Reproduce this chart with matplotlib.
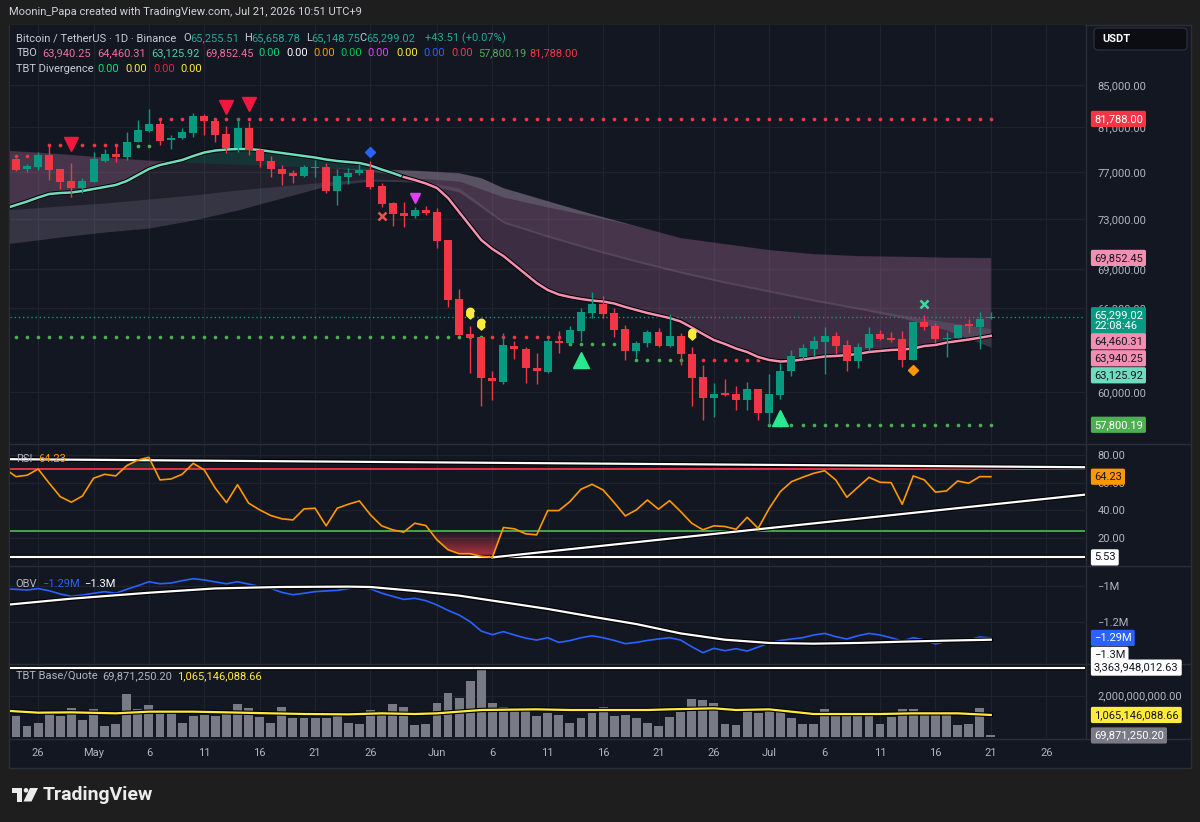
import numpy as np
import pandas as pd
import matplotlib
matplotlib.use('Agg')
import matplotlib.pyplot as plt
import matplotlib.patheffects as pe
from matplotlib.patches import Rectangle, Polygon, Ellipse, FancyBboxPatch
from matplotlib.path import Path
from matplotlib.colors import LinearSegmentedColormap
from matplotlib.ticker import NullLocator

plt.rcParams['font.family'] = ['Roboto', 'DejaVu Sans']

# ---------------- data (BTC/USDT daily, Apr 23 - Jul 21) ----------------
dates = pd.date_range('2026-04-23', '2026-07-21', freq='D')

opens = [77950, 78150, 77270, 77475, 78508, 77270, 76225, 75620, 76165, 78000, 78595, 78355, 79675, 80700,
         81320, 79856, 80010, 80520, 82060, 81595, 80400, 79135, 80950, 78955, 78000, 77270, 76895, 76660,
         77385, 77420, 75365, 76600, 76895, 77183, 75795, 74320, 73480, 73255, 73756, 73565, 71287, 66670,
         64050, 63830, 60930, 60675, 63230, 62970, 61625, 61385, 63565, 63440, 64310, 65595, 66270, 65595,
         64415, 62845, 63400, 64200, 63205, 63930, 62635, 61000, 59560, 59900, 59830, 59447, 60175, 58555,
         59785, 61435, 62440, 62990, 63515, 63930, 63277, 62160, 63085, 64050, 63760, 63690, 62208, 64930,
         64655, 63710, 63805, 64780, 64605, 65255.51]
highs = [78200, 78265, 77710, 78775, 79404, 77270, 77800, 76485, 78800, 79045, 79495, 80610, 81689, 82715,
         81689, 80311, 80950, 82340, 82250, 81780, 81165, 81875, 81530, 79135, 78420, 77622, 77183, 77622,
         78063, 77770, 77245, 77330, 77710, 77975, 76025, 74460, 74405, 74035, 74115, 73895, 71287, 67430,
         64635, 63875, 61435, 64120, 63565, 63135, 62725, 63690, 64290, 64655, 65955, 67195, 66895, 66000,
         64730, 63565, 64364, 64490, 65520, 64170, 63155, 61856, 60640, 60860, 60400, 60695, 60175, 61205,
         62020, 62919, 63330, 63930, 64605, 64240, 63637, 63445, 64605, 64364, 64200, 64290, 64930, 65469,
         64850, 64240, 64730, 65150, 65665, 65658.78]
lows = [77850, 77095, 77035, 77183, 76311, 75535, 74855, 75195, 76165, 77915, 77915, 78063, 79675, 80610,
        79404, 79045, 79945, 80160, 80311, 79700, 78685, 78800, 78508, 77475, 76600, 75880, 76050, 76550,
        76550, 75220, 74176, 75940, 76746, 75535, 74035, 72450, 72370, 73065, 73339, 70620, 66090, 64000,
        61275, 59065, 59447, 60560, 62280, 60605, 60560, 61320, 62725, 63325, 63565, 65265, 65265, 63830,
        62208, 62330, 63155, 63155, 63155, 61856, 59045, 58113, 58290, 59720, 58776, 58776, 58113, 57784,
        59515, 61110, 62208, 62420, 61225, 62635, 61455, 61620, 62845, 63637, 63470, 61740, 62208, 64364,
        63440, 62440, 63805, 64170, 62990, 65148.75]
closes = [78080, 77183, 77535, 78508, 77183, 76165, 75620, 76225, 78150, 78595, 78355, 79700, 80767, 81320,
          79790, 80010, 80555, 82060, 81595, 80311, 79135, 80950, 78955, 77975, 77270, 76835, 76685, 77420,
          77475, 75365, 76660, 76945, 77183, 75735, 74235, 73420, 73280, 73756, 73530, 71230, 66593, 64000,
          63760, 60930, 60765, 63277, 62970, 61625, 61435, 63565, 63440, 64364, 65665, 66270, 65540, 64364,
          62845, 63440, 64200, 63205, 63930, 62635, 60970, 59560, 59860, 59785, 59447, 60175, 58555, 59830,
          61455, 62490, 63040, 63565, 63930, 63230, 62160, 63110, 64050, 63690, 63637, 62208, 64930, 64605,
          63690, 63785, 64730, 64655, 65150, 65299.02]

# TBO fast line (one value per day)
tbo_fast = [73882, 74176, 74470, 74810, 75108, 75194, 75237, 75364, 75536, 75708, 75880, 76224, 76746, 77271,
            77622, 77842, 78063, 78419, 78731, 78910, 79000, 79045, 79045, 78955, 78821, 78687, 78553, 78419,
            78285, 78108, 77975, 77887, 77798, 77578, 77227, 76921, 76572, 76311, 76009, 75622, 74767, 73589,
            72429, 71287, 70562, 70004, 69292, 68588, 67891, 67353, 67010, 66820, 66669, 66556, 66480, 66329,
            66066, 65842, 65618, 65432, 65246, 64988, 64547, 64073, 63637, 63349, 63026, 62776, 62421, 62208,
            62102, 62138, 62244, 62350, 62457, 62492, 62563, 62634, 62776, 62848, 62919, 62955, 63026, 63205,
            63277, 63450, 63560, 63670, 63800, 63940.25]

# TBO slow lines, sampled at day offsets (0 = Apr 24)
slow_x = [-1, 4, 8, 12, 16, 20, 24, 28, 32, 36, 40, 42, 44, 48, 52, 56, 60, 64, 68, 72, 76, 80, 84, 88]
slow_top = [78910, 78597, 78285, 78019, 77842, 77666, 77534, 77402, 77271, 77140, 76921, 76485, 75622, 74514,
            73422, 72429, 71449, 70964, 70482, 70163, 70004, 69950, 69880, 69852.45]
band_x = [-1, 4, 8, 12, 16, 20, 24, 28, 32, 36, 40, 44, 48, 52, 56, 60, 64, 68, 72, 76, 80, 84, 88]
band_hi = [73756, 74092, 74345, 74683, 75023, 75450, 75794, 76139, 76398, 76311, 75622, 72841, 71692, 70642,
           69687, 68822, 68044, 67353, 66669, 66066, 65469, 64951, 64460.31]
band_lo = [70964, 71530, 71937, 72264, 72924, 73756, 74767, 75794, 76224, 76139, 75279, 72676, 71530, 70482,
           69529, 68666, 67891, 67200, 66518, 65917, 65246, 64364, 63125.92]
strip_x = [28, 32, 36, 40, 44, 48, 52, 56]
strip_lo = [77402, 77096, 76485, 76224, 74852, 74008, 73256, 72429]

# support / resistance dot rows: start day, end day, level, kind
dot_start = [0, 3, 11, 13, 0, 43, 50, 56, 62, 68]
dot_end = [1, 9, 12, 88, 42, 49, 54, 60, 67, 88]
dot_level = [78440, 79360, 79340, 81788.00, 63830, 63830, 63349, 62208, 62208, 57800.19]
dot_kind = ['res', 'res', 'sup', 'res', 'sup', 'res', 'sup', 'sup', 'res', 'sup']

# signal markers (day offset, price)
sell_x, sell_y = [5, 19, 21], [79450, 82870, 83200]
buy_x, buy_y = [51, 69], [62208, 58240]
blue_x, blue_y = [32], [78800]
redx_x, redx_y = [33], [73239]
mag_x, mag_y = [36], [74735]
yel_x, yel_y = [41, 42, 61], [65590, 64780, 64050]
greenx_x, greenx_y = [82], [66270]
orange_x, orange_y = [81], [61506]

rsi = [70.0, 64.3, 65.3, 69.8, 59.5, 49.7, 45.7, 50.2, 63.1, 66.0, 64.8, 72.3, 76.4, 78.3, 61.9, 62.6, 66.0,
       74.0, 69.1, 55.8, 45.4, 58.4, 45.0, 40.1, 36.0, 33.6, 32.8, 40.8, 41.3, 28.5, 41.3, 44.2, 46.6, 36.5,
       28.5, 25.6, 23.9, 30.4, 28.7, 18.3, 11.1, 8.2, 8.2, 6.3, 5.53, 27.3, 26.3, 22.7, 21.9, 39.6, 39.6, 46.1,
       55.1, 58.7, 54.6, 45.4, 35.7, 40.1, 47.3, 40.6, 46.8, 38.9, 30.4, 25.6, 28.5, 28.0, 26.0, 34.7, 26.7,
       41.3, 53.4, 60.6, 63.8, 66.7, 68.6, 61.9, 49.3, 56.6, 63.8, 60.2, 59.9, 44.2, 64.8, 61.9, 53.0, 53.9,
       61.1, 59.5, 64.3, 64.23]
rsi_top_x, rsi_top_y = [-1, 97], [77.0, 71.1]
rsi_up_x, rsi_up_y = [43, 97], [5.53, 51.6]
rsi_floor = 5.53

obv = [-1.018, -1.020, -1.024, -1.016, -1.028, -1.046, -1.059, -1.052, -1.042, -1.033, -1.042, -1.020, -1.000,
       -0.978, -0.989, -0.985, -0.972, -0.961, -0.968, -0.979, -0.989, -0.978, -0.991, -1.004, -1.015, -1.037,
       -1.050, -1.042, -1.033, -1.029, -1.026, -1.016, -1.007, -1.018, -1.041, -1.059, -1.076, -1.070, -1.083,
       -1.107, -1.137, -1.163, -1.200, -1.252, -1.272, -1.255, -1.274, -1.291, -1.302, -1.289, -1.315, -1.305,
       -1.289, -1.278, -1.289, -1.304, -1.322, -1.315, -1.304, -1.296, -1.289, -1.302, -1.339, -1.372, -1.348,
       -1.361, -1.350, -1.363, -1.341, -1.318, -1.304, -1.296, -1.289, -1.274, -1.265, -1.283, -1.296, -1.278,
       -1.265, -1.274, -1.289, -1.307, -1.289, -1.302, -1.324, -1.309, -1.304, -1.300, -1.285, -1.290]
obv_ma_x = [-1, 5, 12, 18, 24, 30, 32, 36, 40, 44, 48, 52, 56, 60, 64, 68, 72, 76, 80, 84, 88]
obv_ma = [-1.107, -1.072, -1.039, -1.015, -1.007, -1.005, -1.007, -1.029, -1.055, -1.092, -1.129, -1.172,
          -1.213, -1.265, -1.300, -1.318, -1.322, -1.318, -1.311, -1.305, -1.300]

vol = [1.0, 1.015, 0.529, 0.691, 1.144, 1.015, 1.387, 0.820, 1.338, 0.529, 0.626, 2.066, 1.338, 1.549, 1.273,
       1.273, 0.691, 1.015, 1.063, 1.015, 1.176, 1.597, 1.387, 0.982, 0.691, 1.435, 0.901, 0.901, 0.901, 0.901,
       1.176, 0.691, 0.626, 1.306, 1.273, 1.581, 1.468, 0.578, 0.626, 1.662, 2.147, 1.872, 2.714, 3.363948,
       1.662, 1.468, 1.387, 1.387, 1.015, 1.144, 1.063, 0.691, 0.901, 1.176, 1.468, 1.015, 1.063, 0.901, 0.659,
       0.545, 0.982, 1.225, 1.840, 1.791, 1.630, 0.610, 0.578, 1.306, 1.176, 1.306, 1.225, 0.901, 0.626, 0.626,
       1.338, 1.144, 1.176, 1.144, 1.176, 0.626, 0.950, 1.338, 1.338, 1.176, 1.176, 1.063, 0.578, 0.610, 1.387,
       0.069871]
vol_ma_x = [-1, 2, 5, 9, 12, 16, 19, 23, 26, 30, 33, 36, 38, 40, 42, 47, 50, 54, 57, 59, 63, 65, 68, 70, 72,
            75, 78, 81, 85, 88]
vol_ma = [1.273, 1.176, 1.192, 1.144, 1.225, 1.225, 1.192, 1.144, 1.112, 1.095, 1.144, 1.112, 1.144, 1.225,
          1.306, 1.338, 1.306, 1.306, 1.306, 1.338, 1.387, 1.306, 1.338, 1.225, 1.112, 1.112, 1.112, 1.144,
          1.144, 1.065146]

tick_dates = ['2026-04-26', '2026-05-01', '2026-05-06', '2026-05-11', '2026-05-16', '2026-05-21', '2026-05-26',
              '2026-06-01', '2026-06-06', '2026-06-11', '2026-06-16', '2026-06-21', '2026-06-26', '2026-07-01',
              '2026-07-06', '2026-07-11', '2026-07-16', '2026-07-21', '2026-07-26']
tick_labels = ['26', 'May', '6', '11', '16', '21', '26', 'Jun', '6', '11', '16', '21', '26', 'Jul',
               '6', '11', '16', '21', '26']
price_ticks = [60000, 66000, 69000, 73000, 77000, 81000, 85000]

# ---------------- style ----------------
W, H = 1200, 822
BG = '#131722'
GRID = '#1f2330'
SEP = '#2a2e39'
TXT = '#b2b5be'
UP = '#089981'
DN = '#f23645'
DARK = '#131722'

base = pd.Timestamp('2026-04-24')
x = np.asarray((dates - base).days)
tick_x = [(pd.Timestamp(d) - base).days for d in tick_dates]

o, h, l, c = (np.array(a, dtype=float) for a in (opens, highs, lows, closes))
fast = np.array(tbo_fast)
rsi = np.array(rsi)
obv = np.array(obv)
vol = np.array(vol)

outline = [pe.Stroke(linewidth=3.2, foreground='#000000'), pe.Normal()]

fig = plt.figure(figsize=(W / 100, H / 100), dpi=100, facecolor='#1e1e1e')


def fx(px):
    return px / W


def fy(py):
    return 1 - py / H


fig.add_artist(Rectangle((fx(9), fy(768)), 1182 / W, 743 / H, transform=fig.transFigure,
                         facecolor=BG, edgecolor=SEP, lw=1, zorder=-5))


def pane(y0, y1):
    return fig.add_axes([fx(10), fy(y1), 1075 / W, (y1 - y0) / H])


ax = pane(25, 443)
ar = pane(445, 565)
ao = pane(567, 663)
av = pane(665, 738)

for a in (ax, ar, ao, av):
    a.set_facecolor(BG)
    for s in a.spines.values():
        s.set_visible(False)
    a.yaxis.tick_right()
    a.tick_params(axis='y', length=0, pad=9, labelsize=8, labelcolor=TXT)
    a.tick_params(axis='x', length=0, labelbottom=False)
    a.set_xticks(tick_x)
    a.grid(True, color=GRID, lw=0.9)
    a.set_axisbelow(True)

# pane separators
for yy in (444, 566, 664, 739):
    fig.add_artist(plt.Line2D([fx(9), fx(1191)], [fy(yy), fy(yy)], color=SEP, lw=1))
fig.add_artist(plt.Line2D([fx(1086), fx(1086)], [fy(25), fy(739)], color=SEP, lw=1))

# ---------------- main price pane ----------------
top_full = np.interp(x, slow_x, slow_top)
hi_full = np.interp(x, band_x, band_hi)
lo_full = np.interp(x, band_x, band_lo)

ax.fill_between(x, fast, top_full, where=fast >= top_full, interpolate=True,
                color='#26c6a0', alpha=0.16, lw=0, zorder=1)
ax.fill_between(x, fast, top_full, where=fast < top_full, interpolate=True,
                color='#a0608f', alpha=0.30, lw=0, zorder=1)
ax.fill_between(x, top_full, hi_full, color='#c8a0c0', alpha=0.08, lw=0, zorder=1)
ax.fill_between(x, hi_full, lo_full, color='#a898b4', alpha=0.24, lw=0, zorder=1)
sx = x[(x >= strip_x[0]) & (x <= strip_x[-1])]
ax.fill_between(sx, np.interp(sx, slow_x, slow_top), np.interp(sx, strip_x, strip_lo),
                color='#9ab8b8', alpha=0.22, lw=0, zorder=1)

for s, e, lev, kind in zip(dot_start, dot_end, dot_level, dot_kind):
    xs = np.arange(s, e + 1)
    ax.scatter(xs, np.full(len(xs), lev), s=7, lw=0, zorder=2,
               color=DN if kind == 'res' else '#4caf50')

ax.axhline(closes[-1], color=UP, lw=1, ls=(0, (1, 2)), zorder=2)

k = int(np.where(x == 35)[0][0])
ax.plot(x[:k + 1], fast[:k + 1], color='#6fdcbd', lw=1.8, zorder=3, path_effects=outline)
ax.plot(x[k:], fast[k:], color='#f48fb1', lw=1.8, zorder=3, path_effects=outline)

up = c >= o
col = np.where(up, UP, DN)
ax.vlines(x, l, h, colors=col, lw=1, zorder=4)
body_lo = np.minimum(o, c)
body_h = np.maximum(np.abs(c - o), body_lo * 0.0013)
ax.bar(x, body_h, bottom=body_lo, width=0.72, color=col, lw=0, zorder=5)

# signal markers
ax.plot(sell_x, sell_y, 'v', color='#f5163f', ms=10.5, zorder=6, ls='none')
ax.plot(buy_x, buy_y, '^', color='#2ae88f', ms=11, zorder=6, ls='none')
ax.plot(blue_x, blue_y, 'D', color='#2962ff', ms=5, zorder=6, ls='none')
ax.plot(redx_x, redx_y, 'x', color='#f0524f', ms=5.5, mew=1.8, zorder=6, ls='none')
ax.plot(mag_x, mag_y, 'v', color='#e040fb', ms=6.5, zorder=6, ls='none')
ax.plot(greenx_x, greenx_y, 'x', color='#2de3a0', ms=6, mew=1.8, zorder=6, ls='none')
ax.plot(orange_x, orange_y, 'D', color='#ff9800', ms=5, zorder=6, ls='none')
t = np.linspace(0, np.pi, 16)
drop = np.vstack([np.c_[0.6 * np.cos(t), 0.25 + 0.6 * np.sin(t)], [[-0.6, -0.35], [0, -0.9], [0.6, -0.35]]])
ax.plot(yel_x, yel_y, marker=drop, color='#ffeb3b', ms=8, zorder=6, ls='none')

ax.set_yscale('log')
ax.set_ylim(56616, 90991)
ax.set_yticks(price_ticks)
ax.set_yticklabels([f'{p:,.2f}' for p in price_ticks])
ax.yaxis.set_minor_locator(NullLocator())
ax.set_xlim(-0.54, 96.5)

# ---------------- RSI pane ----------------
ar.set_xlim(-0.54, 96.5)
ar.set_ylim(0.0, 87.3)
ar.set_yticks([20, 40, 60, 80])
ar.set_yticklabels(['20.00', '40.00', '60.00', '80.00'])

fb = ar.fill_between(x, rsi, 25, where=rsi <= 25, interpolate=True, color='none', lw=0)
clip = Path.make_compound_path(*fb.get_paths())
red_cmap = LinearSegmentedColormap.from_list('r', [(0.96, 0.25, 0.30, 0.95), (0.96, 0.25, 0.30, 0.0)])
im = ar.imshow(np.linspace(0, 1, 256).reshape(-1, 1), extent=[x[0], x[-1], 0, 25], origin='lower',
               aspect='auto', cmap=red_cmap, zorder=2)
im.set_clip_path(clip, ar.transData)
ar.fill_between(x, rsi, 70, where=rsi >= 70, interpolate=True, color='#4caf50', alpha=0.18, lw=0, zorder=2)

ar.axhline(70, color=DN, lw=1.3, zorder=3)
ar.axhline(25, color='#4caf50', lw=1.3, zorder=3)
ar.axhline(rsi_floor, color='white', lw=1.6, zorder=3, path_effects=outline)
ar.plot(rsi_top_x, rsi_top_y, color='white', lw=1.6, zorder=3, path_effects=outline)
ar.plot(rsi_up_x, rsi_up_y, color='white', lw=1.6, zorder=3, path_effects=outline)
ar.plot(x, rsi, color='#ff9800', lw=1.2, zorder=4)
ar.set_xlim(-0.54, 96.5)
ar.set_ylim(0.0, 87.3)

# ---------------- OBV pane ----------------
ao.plot(x, obv, color='#2962ff', lw=1.2, zorder=3)
ao.plot(obv_ma_x, obv_ma, color='white', lw=1.6, zorder=4, path_effects=outline)
ao.set_xlim(-0.54, 96.5)
ao.set_ylim(-1.4294, -0.896)
ao.set_yticks([-1.2, -1.0])
ao.set_yticklabels(['\u22121.2M', '\u22121M'])

# ---------------- volume pane ----------------
av.bar(x, vol, width=0.8, color='#787b86', lw=0, zorder=2)
av.axhline(max(vol), color='white', lw=1.6, zorder=3, path_effects=outline)
av.plot(vol_ma_x, vol_ma, color='#ffeb3b', lw=1.6, zorder=4, path_effects=outline)
av.set_xlim(-0.54, 96.5)
av.set_ylim(-0.053, 3.49)
av.set_yticks([2.0])
av.set_yticklabels(['2,000,000,000.00'])
av.set_xticklabels(tick_labels)
av.tick_params(axis='x', labelbottom=True, pad=7, labelsize=8, labelcolor=TXT)


# ---------------- right-side value tags ----------------
def tags(a, items):
    bottom = -1e9
    for val, text, bg, fg in items:
        yc = H - a.transData.transform((0, val))[1]
        n = text.count('\n') + 1
        hgt = 16 if n == 1 else 23
        top = max(yc - 8, bottom + 1)
        bottom = top + hgt
        fig.text(fx(1094), fy(top + hgt / 2), text, fontsize=8, color=fg, va='center', ha='left',
                 linespacing=1.15, zorder=20,
                 bbox=dict(boxstyle='round,pad=0.28,rounding_size=0.15', fc=bg, ec='none'))


tags(ax, [(81788.00, '81,788.00', DN, 'white')])
tags(ax, [(69852.45, '69,852.45', '#f48fb1', DARK)])
tags(ax, [(65299.02, '65,299.02\n22:08:46', UP, 'white'), (64460.31, '64,460.31', '#f48fb1', DARK),
          (63940.25, '63,940.25', '#f48fb1', DARK), (63125.92, '63,125.92', '#6fdcbd', DARK)])
tags(ax, [(57800.19, '57,800.19', '#4caf50', 'white')])
tags(ar, [(64.23, '64.23', '#ff9800', DARK)])
tags(ar, [(5.53, '5.53', 'white', DARK)])
tags(ao, [(-1.29, '\u22121.29M', '#2962ff', 'white'), (-1.30, '\u22121.3M', 'white', DARK)])
tags(av, [(3.363948, '3,363,948,012.63', 'white', DARK)])
tags(av, [(1.065146, '1,065,146,088.66', '#ffeb3b', DARK)])
tags(av, [(0.069871, '69,871,250.20', '#787b86', 'white')])

# USDT button
fig.add_artist(FancyBboxPatch((fx(1094), fy(50)), 93 / W, 22 / H, transform=fig.transFigure,
                              boxstyle='round,pad=0,rounding_size=0.004', fc='#0b0d12', ec=SEP, lw=1))
fig.text(fx(1102), fy(39.5), 'USDT', fontsize=8, color='white', fontweight='bold', va='center')


# ---------------- legends / header ----------------
def runs(y_px, parts, fs=8):
    for x_px, s, colr in parts:
        fig.text(fx(x_px), fy(y_px), s, color=colr, fontsize=fs, va='center', ha='left')


fig.text(fx(9), fy(12), 'Moonin_Papa created with TradingView.com, Jul 21, 2026 10:51 UTC+9',
         color='#d1d4dc', fontsize=8.0, va='center')
LEG = '#22ab94'
runs(38, [(16.5, 'Bitcoin / TetherUS \u00b7 1D \u00b7 Binance', '#c9ccd4'), (183, 'O', '#c9ccd4'),
          (190, '65,255.51', LEG), (244.5, 'H', '#c9ccd4'), (251, '65,658.78', LEG), (306, 'L', '#c9ccd4'),
          (311.5, '65,148.75', LEG), (359.5, 'C', '#c9ccd4'), (366, '65,299.02', LEG),
          (425, '+43.51 (+0.07%)', LEG)])
runs(53.5, [(16.5, 'TBO', '#c9ccd4'), (42, '63,940.25', '#f06ea0'), (97, '64,460.31', '#f06ea0'),
            (151, '63,125.92', '#4fd1a5'), (205, '69,852.45', '#f06ea0'), (258, '0.00', '#13d37b'),
            (286, '0.00', 'white'), (313, '0.00', '#ff9800'), (340.5, '0.00', '#00c853'),
            (367.5, '0.00', '#e040fb'), (396, '0.00', '#ffeb3b'), (423, '0.00', '#2962ff'),
            (451, '0.00', DN), (478, '57,800.19', '#4caf50'), (529, '81,788.00', DN)], fs=7.9)
runs(69.5, [(16.5, 'TBT Divergence', '#c9ccd4'), (97.5, '0.00', '#00e676'), (125.5, '0.00', '#ffeb3b'),
            (153, '0.00', '#ff1744'), (180.5, '0.00', '#ffeb3b')])
runs(459, [(16.5, 'RSI', TXT), (38, '64.23', '#ff9800')])
runs(583.5, [(15.5, 'OBV', TXT), (42, '\u22121.29M', '#2962ff'), (84, '\u22121.3M', 'white')])
runs(676, [(16, 'TBT Base/Quote', TXT), (102, '69,871,250.20', TXT), (177.5, '1,065,146,088.66', '#ffeb3b')])

# TradingView logo
LOGO = '#ececec'
fig.add_artist(Rectangle((fx(12), fy(792.5)), 10 / W, 4.5 / H, transform=fig.transFigure, fc=LOGO, lw=0))
fig.add_artist(Rectangle((fx(17), fy(801.5)), 5 / W, 13.5 / H, transform=fig.transFigure, fc=LOGO, lw=0))
fig.add_artist(Ellipse((fx(26), fy(790.3)), 4.6 / W, 4.6 / H, transform=fig.transFigure, fc=LOGO, lw=0))
fig.add_artist(Polygon([(fx(30), fy(788)), (fx(38), fy(788)), (fx(31.5), fy(801.5)), (fx(23.5), fy(801.5))],
                       closed=True, transform=fig.transFigure, fc=LOGO, lw=0))
fig.text(fx(43), fy(795), 'TradingView', color=LOGO, fontsize=14, fontweight='bold', va='center')

fig.savefig('out.png', dpi=100, facecolor=fig.get_facecolor())
